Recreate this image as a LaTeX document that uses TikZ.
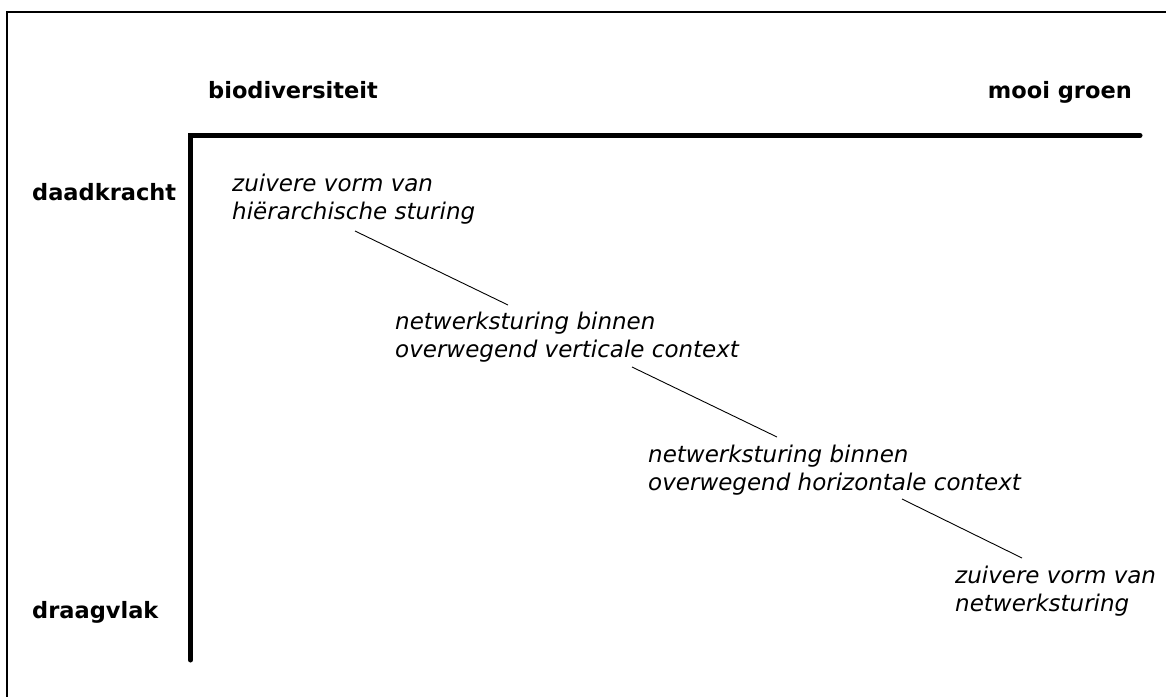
\documentclass[tikz,border=0pt]{standalone}
\usepackage{fontspec}
\setmainfont{DejaVu Sans}
\begin{document}
\begin{tikzpicture}[x=1pt,y=-1pt,
  frameline/.style={line width=1.5pt,black},
  axisline/.style={line width=5pt,black,line cap=round,line join=miter},
  linkline/.style={line width=0.9pt,black},
  axislabel/.style={inner sep=0pt,anchor=base west,font=\fontsize{22.5}{27}\selectfont\bfseries},
  note/.style={inner sep=0pt,anchor=base west,align=left,font=\fontsize{23}{27.5}\selectfont\itshape}]
\useasboundingbox (0,0) rectangle (1166,696);
% frame
\coordinate (fb) at (7,700);
\coordinate (ftl) at (7,12);
\coordinate (fr) at (1170,12);
\draw[frameline] (fb) -- (ftl) -- (fr);
% axes
\coordinate (ax) at (1140,135.5);
\coordinate (ao) at (190.5,135.5);
\coordinate (ay) at (190.5,660);
\draw[axisline] (ax) -- (ao) -- (ay);
% axis labels
\node[axislabel] (bio) at (208,98) {biodiversiteit};
\node[axislabel,anchor=base east] (mooi) at (1132,98) {mooi groen};
\node[axislabel] (daad) at (32,200) {daadkracht};
\node[axislabel] (draag) at (32,618) {draagvlak};
% notes (anchor = baseline of last line)
\node[note] (n1) at (232,219) {zuivere vorm van\\hiërarchische sturing};
\node[note] (n2) at (395,357) {netwerksturing binnen\\overwegend verticale context};
\node[note] (n3) at (648,490) {netwerksturing binnen\\overwegend horizontale context};
\node[note] (n4) at (955,611) {zuivere vorm van\\netwerksturing};
% connectors
\coordinate (l1a) at (355,231);
\coordinate (l1b) at (508,305);
\coordinate (l2a) at (632,367);
\coordinate (l2b) at (777,437);
\coordinate (l3a) at (902,499);
\coordinate (l3b) at (1022,558);
\draw[linkline] (l1a) -- (l1b);
\draw[linkline] (l2a) -- (l2b);
\draw[linkline] (l3a) -- (l3b);
\end{tikzpicture}
\end{document}
